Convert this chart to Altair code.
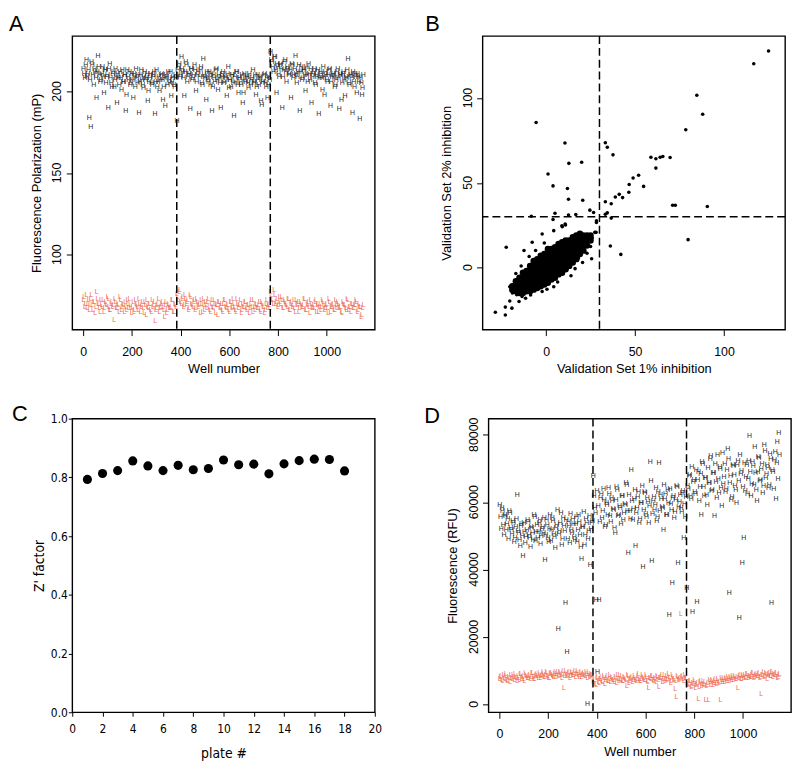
import altair as alt
import pandas as pd

FONT = "Liberation Sans, Arial, Helvetica, sans-serif"
NARROW = "Liberation Sans Narrow, Arial Narrow, DejaVu Sans Condensed, sans-serif"
RED = "#EE6A50"
DARK = "#1e1e1e"

PLATE = 384
STEP = 6
plate_breaks = [384, 768]

# ---------------- Panel A: fluorescence polarization (mP)
# two interleaved samplings per plate: wells 1,7,13,... and wells 4,10,16,...
a_high = [
    [214, 208, 219, 211, 184, 178, 216, 204, 212, 196, 222, 210, 207, 215, 199, 213, 209, 190, 217, 205,
     211, 203, 214, 193, 208, 212, 201, 206, 210, 188, 213, 207, 204, 211, 196, 209, 214, 205, 187, 210,
     207, 202, 212, 208, 194, 206, 211, 204, 209, 186, 213, 206, 200, 210, 207, 203, 191, 209, 212, 205,
     197, 208, 204, 210],
    [182, 215, 209, 221, 212, 197, 218, 206, 211, 189, 214, 208, 216, 200, 210, 186, 213, 205, 220, 209,
     195, 207, 212, 204, 188, 210, 206, 214, 201, 208, 190, 211, 205, 209, 197, 215, 207, 203, 210, 185,
     206, 212, 199, 208, 204, 193, 211, 206, 209, 202, 187, 207, 213, 205, 198, 210, 204, 208, 192, 206,
     211, 203, 196, 209],
    [224, 218, 212, 221, 199, 215, 209, 217, 190, 213, 219, 206, 214, 211, 196, 216, 210, 222, 205, 212,
     188, 215, 208, 213, 200, 210, 217, 207, 193, 211, 214, 204, 209, 186, 212, 208, 215, 198, 210, 206,
     213, 191, 209, 211, 203, 207, 214, 189, 210, 205, 212, 197, 208, 220, 204, 210, 187, 206, 211, 199,
     209, 183, 205, 202],
]
a_high_b = [
    [211, 216, 209, 213, 207, 218, 210, 214, 208, 212, 215, 206, 211, 209, 213, 205, 210, 214, 208, 203,
     212, 207, 209, 211, 204, 208, 213, 206, 210, 198, 209, 212, 205, 207, 211, 203, 208, 210, 206, 213,
     204, 209, 207, 211, 200, 208, 205, 210, 212, 206, 203, 209, 207, 211, 195, 208, 210, 204, 207, 212,
     206, 209, 203, 208],
    [213, 217, 210, 214, 208, 212, 216, 209, 211, 214, 207, 210, 213, 206, 212, 209, 215, 204, 210, 208,
     212, 206, 209, 211, 203, 208, 213, 207, 210, 205, 209, 212, 206, 208, 211, 202, 207, 210, 205, 209,
     212, 204, 208, 206, 210, 199, 207, 209, 205, 211, 204, 208, 206, 210, 203, 207, 209, 194, 206, 210,
     205, 208, 204, 207],
    [219, 215, 221, 213, 217, 211, 216, 214, 209, 218, 212, 215, 210, 213, 217, 208, 214, 211, 209, 216,
     212, 207, 213, 210, 215, 206, 211, 214, 209, 212, 205, 210, 213, 208, 211, 201, 209, 212, 207, 210,
     214, 206, 211, 209, 204, 212, 208, 210, 195, 211, 207, 209, 213, 205, 210, 208, 212, 203, 209, 211,
     206, 208, 198, 210],
]
a_low = [
    [72, 68, 75, 70, 66, 73, 69, 71, 64, 77, 70, 67, 72, 68, 65, 71, 69, 73, 66, 70,
     68, 60, 71, 67, 69, 74, 66, 70, 65, 68, 72, 67, 69, 64, 71, 66, 70, 68, 73, 65,
     69, 67, 71, 63, 68, 70, 66, 72, 69, 59, 67, 70, 65, 68, 71, 66, 69, 64, 70, 67,
     68, 72, 65, 69],
    [76, 72, 78, 70, 74, 69, 73, 71, 66, 75, 70, 68, 72, 67, 71, 69, 64, 70, 73, 66,
     69, 71, 68, 65, 72, 67, 70, 69, 63, 71, 68, 66, 70, 72, 67, 69, 65, 71, 68, 70,
     66, 73, 67, 69, 64, 70, 68, 71, 66, 69, 67, 72, 65, 68, 70, 67, 69, 66, 71, 68,
     64, 70, 67, 69],
    [77, 73, 70, 75, 71, 68, 74, 70, 72, 67, 71, 69, 73, 66, 70, 68, 72, 65, 69, 71,
     67, 70, 68, 73, 66, 69, 71, 64, 70, 68, 67, 72, 69, 65, 70, 68, 71, 66, 69, 67,
     73, 65, 68, 70, 66, 69, 71, 67, 68, 64, 70, 69, 66, 72, 68, 65, 70, 67, 69, 71,
     66, 68, 62, 67],
]
a_low_b = [
    [74, 70, 67, 72, 69, 75, 66, 71, 68, 73, 70, 65, 69, 72, 67, 70, 74, 68, 66, 71,
     69, 73, 67, 70, 65, 72, 68, 69, 71, 66, 70, 73, 67, 68, 65, 72, 69, 66, 70, 68,
     71, 64, 69, 72, 67, 70, 65, 68, 71, 66, 69, 73, 67, 70, 68, 62, 71, 66, 69, 67,
     72, 65, 70, 68],
    [74, 77, 71, 73, 68, 75, 70, 72, 67, 74, 69, 71, 66, 73, 68, 70, 72, 65, 69, 71,
     67, 73, 66, 70, 68, 72, 64, 69, 71, 67, 70, 65, 72, 68, 69, 66, 71, 67, 73, 68,
     65, 70, 69, 72, 66, 68, 71, 67, 69, 64, 70, 68, 72, 66, 69, 67, 71, 65, 70, 68,
     66, 72, 69, 67],
    [75, 72, 78, 70, 73, 69, 71, 74, 67, 72, 70, 68, 73, 66, 71, 69, 67, 72, 70, 65,
     71, 68, 69, 73, 66, 70, 68, 72, 67, 69, 71, 65, 70, 68, 66, 72, 69, 67, 70, 64,
     71, 68, 69, 66, 72, 67, 70, 68, 65, 71, 69, 67, 73, 66, 68, 70, 67, 69, 72, 65,
     70, 68, 63, 69],
]

# ---------------- Panel D: fluorescence (RFU)
d_high = [
    [59200, 52100, 57400, 50300, 55800, 53600, 49100, 56900, 51800, 54300, 48200, 52700, 62000, 50900, 47100,
     53500, 44000, 51200, 49800, 54800, 50200, 46700, 52300, 48900, 55600, 51100, 49500, 53800, 47600, 52000,
     50700, 42800, 54600, 49300, 51900, 48400, 55300, 50600, 46300, 53200, 22300, 51500, 56800, 49000, 52800,
     30100, 15400, 54100, 47900, 51700, 55000, 49600, 53600, 48100, 56200, 50400, 43000, 52500, 47300, 54900,
     0, 51300, 41400, 53900],
    [67900, 58300, 31000, 9500, 30900, 61200, 55400, 63800, 52600, 59700, 56100, 62400, 54200, 60300, 57800,
     50900, 64600, 55900, 58800, 53400, 61700, 56700, 59300, 65200, 44800, 57300, 69500, 54600, 60800, 47100,
     58200, 62900, 55100, 59900, 40800, 63100, 56400, 61100, 53800, 71900, 42400, 60200, 57600, 64300, 55700,
     71600, 62100, 58700, 51800, 60900, 56300, 63500, 26500, 59400, 36000, 61800, 57100, 64800, 42000, 60100,
     58400, 62700, 49500, 55500],
    [34500, 63800, 68200, 60900, 27500, 66700, 62300, 30300, 69100, 64500, 56200, 71400, 61800, 67300, 59100,
     65600, 72800, 63200, 68800, 55800, 66100, 73900, 62700, 69800, 58900, 65300, 71200, 63900, 75800, 33100,
     67800, 61400, 70600, 64900, 59800, 72300, 25700, 68400, 41800, 49500, 63300, 70900, 66900, 79500, 61900,
     71800, 65200, 68600, 60300, 73400, 66400, 69700, 62600, 76900, 67100, 71000, 64100, 74300, 30200, 68900,
     72600, 61000, 77800, 80500],
]
d_high_b = [
    [55600, 58400, 53100, 56200, 51700, 54900, 57300, 52400, 50600, 53800, 49400, 55100, 51300, 48700, 52900,
     50100, 53700, 47800, 51600, 54200, 49300, 52500, 50800, 56300, 48600, 53300, 51200, 54700, 49900, 52700,
     55400, 50400, 53100, 48300, 56100, 51800, 54300, 49700, 52200, 57600, 50500, 53900, 47400, 55200, 51400,
     54600, 49200, 52900, 56400, 50800, 53400, 48800, 55700, 51600, 54100, 46800, 52600, 57100, 50300, 53700,
     49100, 55900, 51900, 54500],
    [61800, 56700, 63400, 58900, 54100, 62300, 57500, 60700, 53300, 59100, 64100, 55800, 61300, 57900, 52400,
     60500, 63700, 56200, 58400, 61900, 54800, 59600, 65800, 57300, 62200, 55100, 60400, 58100, 63600, 56900,
     61500, 53900, 59800, 64700, 57700, 62600, 55600, 60100, 58800, 66300, 56500, 61600, 59200, 54300, 63100,
     57400, 60800, 58300, 65100, 62400, 56100, 59700, 63900, 57800, 61200, 55300, 60600, 64400, 58600, 62100,
     57000, 63300, 59500, 61400],
    [64700, 67900, 61900, 70300, 65900, 63100, 69400, 66600, 60200, 68300, 71900, 64400, 67200, 62100, 70100,
     65700, 73600, 63600, 68700, 71300, 61300, 66800, 70400, 64200, 74600, 67600, 62900, 69600, 72700, 65800,
     60700, 71100, 68100, 63700, 70900, 66200, 74100, 69300, 64600, 71600, 67400, 62400, 72100, 68900, 65500,
     70700, 76300, 63500, 69100, 73200, 66500, 71400, 64800, 75200, 68300, 70200, 65100, 72900, 69500, 63900,
     74800, 71700, 66800, 73900],
]
d_low = [
    [7600, 8400, 6900, 7800, 9100, 7200, 8100, 6600, 7900, 8600, 7300, 8200, 6800, 7700, 8900, 7500, 8300,
     7000, 8700, 7900, 8500, 7400, 9200, 8000, 7600, 8800, 8300, 9400, 7800, 8600, 9000, 8200, 9600, 8400,
     7900, 9300, 8700, 8100, 9500, 8900, 8300, 9700, 8600, 9100, 4900, 9800, 8500, 9200, 7800, 9600, 8800,
     9300, 8200, 9900, 8700, 9400, 8000, 9100, 8600, 9500, 7700, 9000, 8300, 8800],
    [6500, 7200, 5800, 8100, 6300, 7500, 6900, 8400, 6100, 7700, 7000, 8700, 6600, 7900, 7300, 8200, 6400,
     7600, 8800, 7100, 6800, 8000, 7400, 5500, 8500, 7000, 7800, 6700, 8300, 7200, 7600, 8900, 6900, 7500,
     8100, 7300, 8600, 7000, 4900, 7800, 8400, 7100, 7700, 6600, 8200, 5200, 7900, 8700, 7400, 6800, 8500,
     7600, 8100, 6200, 8800, 7300, 4400, 2300, 8000, 7500, 26800, 8300, 6900, 7700],
    [7800, 5600, 6800, 5100, 6300, 7200, 4800, 5900, 1500, 6600, 5300, 7000, 6100, 1200, 5700, 1300, 6500,
     7300, 5800, 6900, 6200, 7600, 6400, 1200, 7100, 7800, 6600, 7400, 8100, 6900, 7700, 8400, 7200, 8000,
     7500, 4900, 8300, 7600, 8700, 7900, 8200, 9000, 7700, 8500, 8000, 9200, 7800, 8600, 8300, 9100, 7900,
     3200, 8800, 8200, 9300, 7600, 8900, 8400, 9500, 8100, 8700, 9200, 7900, 8600],
]
d_low_b = [
    [8100, 7300, 8800, 7600, 8300, 6900, 7900, 8600, 7400, 8200, 9000, 7700, 8400, 7100, 8900, 8000, 7500,
     9200, 8300, 7800, 8700, 8100, 9300, 7600, 8500, 9100, 7900, 8800, 8300, 9500, 8000, 8700, 9200, 7800,
     8900, 9400, 8400, 9000, 8200, 9600, 8700, 9300, 7900, 9800, 8500, 9100, 8800, 9500, 8300, 9200, 8600,
     10000, 8900, 9400, 8100, 9700, 8800, 9300, 8500, 9000, 9600, 8200, 9100, 8700],
    [7300, 6100, 7900, 6700, 7400, 8200, 6500, 7700, 7100, 8500, 6800, 7500, 8100, 7200, 6600, 7800, 8600,
     7000, 7500, 8300, 6900, 7700, 7200, 8800, 6400, 7600, 8200, 7100, 7900, 6800, 8400, 7400, 7000, 8700,
     7700, 7200, 8100, 6700, 7900, 7400, 8500, 6900, 7600, 8300, 7100, 7800, 8000, 6600, 8600, 7500, 7300,
     8900, 7900, 7000, 8200, 7600, 6800, 8400, 7200, 7700, 8100, 7400, 8700, 7900],
    [6400, 5900, 7000, 5400, 6100, 6700, 5600, 6300, 5200, 6900, 6000, 5800, 6600, 5500, 6200, 7100, 5700,
     6800, 6400, 7400, 6100, 7000, 6700, 7700, 6500, 7200, 7900, 6900, 7500, 8200, 7100, 7800, 8500, 7400,
     8100, 7700, 8800, 7600, 8300, 8600, 7900, 9100, 8400, 8000, 8700, 9300, 8200, 8900, 8500, 9400, 8100,
     8800, 9600, 8300, 9000, 8700, 9200, 8400, 9700, 8900, 8600, 9300, 8200, 9000],
]

# ---------------- Panel B: validation set % inhibition
# dense core of the cloud: (set-1 value, list of set-2 values)
b_core = [
    (-19, [-13, -11]), (-17, [-14, -11, -8]), (-15, [-15, -12, -9, -6]), (-13, [-15, -12, -9, -6, -3]),
    (-11, [-14, -11, -8, -5, -2]), (-9, [-14, -11, -8, -5, -2, 1]), (-7, [-13, -10, -7, -4, -1, 2, 4]),
    (-5, [-12, -9, -6, -3, 0, 3, 5]), (-3, [-11, -8, -5, -2, 1, 4, 7]), (-1, [-10, -7, -4, -1, 2, 5, 8]),
    (1, [-9, -6, -3, 0, 3, 6, 9, 11]), (3, [-7, -4, -1, 2, 5, 8, 11]), (5, [-6, -3, 0, 3, 6, 9, 12]),
    (7, [-4, -1, 2, 5, 8, 11, 14]), (9, [-3, 0, 3, 6, 9, 12, 15]), (11, [-1, 2, 5, 8, 11, 14, 16]),
    (13, [1, 4, 7, 10, 13, 16]), (15, [3, 6, 9, 12, 15, 18]), (17, [5, 8, 11, 14, 17, 19]),
    (19, [8, 11, 14, 17, 20]), (21, [10, 13, 16, 19]), (23, [13, 16, 19]), (25, [16, 19]),
]
b_x = [125, 116.7, 84.7, 88, 78.5, -5.6, 10.6, 33.3, 34.4, 37.6, 12.8, 20, 1.1, 3.9, 12, 12.6, 20.6, 5,
       -8.3, 12.6, 16.7, 24.6, 26.7, 28.3, 33.3, 34.4, 36.6, 33.3, 36.6, 38.9, 41.1, 43, 46.5, 46.7, 48.9,
       52, 54.8, 58.9, 61.7, 61.7, 64.1, 65.6, 69.7, 71.1, 72.6, 90.6, 79.8, 36.1, 42, 25.6, 28.1, -22.4,
       -28.5, -22.9, -22.9, -19.2, -20.4, -7.8, -12.4, 3.9, 9.1, 10.9, 18.2, -2.2, 4.3, 8.9, 10.7, 27.4,
       28.3, 16.3, 11.7, 4.3, -15.2, -11.5, -8.7, -2.2, -20.4, -18.9, -17.9, -5.9, -13.5, -16.5, 0.5, 6.5,
       14, 20.5, 23, 25, 26, -1, -9.5, -14, -17]
b_y = [127.8, 120.2, 101.7, 90.5, 81.3, 85.6, 73.5, 73.6, 71, 66.5, 61.5, 62.2, 55.2, 48.2, 46.7, 40.3,
       39.7, 32.1, 30.3, 31, 31.3, 33.9, 32.5, 27.6, 31.5, 32.3, 29.2, 38.9, 37.7, 41.6, 43.2, 41.3, 44.5,
       49, 52.9, 54.5, 47.9, 65.1, 64.2, 58.7, 65.1, 65.5, 64.9, 36.8, 36.8, 36, 16.5, 12.8, 7.8, 5.2, 20.8,
       12, -26.3, -28, -23.3, -23.9, -19.7, 15, 10.1, 28.4, 24.1, 25.2, 5.6, 19.8, 21.8, 24.7, 25.7, 20.8,
       26.6, -0.6, 1.3, -11.3, -20, -18.1, -16.1, -14.1, -11.3, -15, -13.3, 10.1, -17, -16, -12.8, -8.5,
       -4.8, 3, 8.5, 12.5, 17.5, 14.5, 6.5, 1, -3.5]
b_cut = 30

# ---------------- Panel C: Z' factor per plate
c_plate = list(range(1, 19))
c_z = [0.793, 0.813, 0.823, 0.856, 0.839, 0.823, 0.841, 0.826, 0.830, 0.859,
       0.843, 0.845, 0.812, 0.846, 0.857, 0.862, 0.861, 0.822]

well_ticks = [0, 200, 400, 600, 800, 1000]
a_ticks = [100, 150, 200]
b_ticks = [0, 50, 100]
d_ticks = [0, 20000, 40000, 60000, 80000]


def wells_df(label, *sets):
    rows = []
    for offset, plates in sets:
        for p, vals in enumerate(plates):
            for i, v in enumerate(vals):
                rows.append({"well": PLATE * p + offset + STEP * i, "value": v, "mark": label})
    return pd.DataFrame(rows)


def x_axis(title, values):
    return alt.Axis(values=values, title=title, grid=False, domain=False, tickSize=6,
                    tickColor="black", tickWidth=1, labelFont=FONT, labelFontSize=12.5,
                    labelColor="black", labelFlush=False, labelOverlap=False, labelPadding=10,
                    format="d", titleFont=FONT, titleFontSize=13, titleFontWeight="normal",
                    titleColor="black", titlePadding=5)


def y_axis(title, values):
    # tick labels are drawn as rotated text marks (see ylabels)
    return alt.Axis(values=values, title=title, grid=False, domain=False, tickSize=6,
                    tickColor="black", tickWidth=1, labels=False, titleFont=FONT, titleFontSize=13,
                    titleFontWeight="normal", titleColor="black", titlePadding=23)


def ylabels(values, yscale, yaxis):
    return alt.Chart(pd.DataFrame({"tick": values})).mark_text(
        angle=270, align="center", baseline="bottom", font=FONT, fontSize=12.5, color="black"
    ).encode(y=alt.Y("tick:Q", scale=yscale, axis=yaxis), x=alt.value(-8),
             text=alt.Text("tick:Q", format="d"))


def letter(ch, dx, dy):
    return alt.Chart(pd.DataFrame({"t": [ch]})).mark_text(
        font=FONT, fontSize=22, align="left", baseline="top", color="black"
    ).encode(x=alt.value(dx), y=alt.value(dy), text="t:N")


W, H = 306, 297


def well_panel(highs, lows, ydom, yvals, ytitle, ch, dx, dy):
    xs = alt.Scale(domain=[-45, 1197], nice=False, zero=False)
    ys = alt.Scale(domain=ydom, nice=False, zero=False)
    yax = y_axis(ytitle, yvals)
    xe = alt.X("well:Q", scale=xs, axis=x_axis("Well number", well_ticks))
    ye = alt.Y("value:Q", scale=ys, axis=yax)
    hi = alt.Chart(wells_df("H", *highs)).mark_text(font=FONT, fontSize=7, color=DARK).encode(
        x=xe, y=ye, text="mark:N")
    lo = alt.Chart(wells_df("L", *lows)).mark_text(font=FONT, fontSize=7, color=RED).encode(
        x=xe, y=ye, text="mark:N")
    vl = alt.Chart(pd.DataFrame({"well": plate_breaks})).mark_rule(
        color="black", strokeDash=[8, 4], strokeWidth=1.5).encode(x=xe)
    yl = ylabels(yvals, ys, yax)
    return alt.layer(hi, lo, vl, yl, letter(ch, dx, dy)).properties(width=W, height=H)


panelA = well_panel([(1, a_high), (4, a_high_b)], [(1, a_low), (4, a_low_b)], [54, 234],
                    a_ticks, "Fluorescence Polarization (mP)", "A", -64, -22)
panelD = well_panel([(1, d_high), (4, d_high_b)], [(1, d_low), (4, d_low_b)], [-2355, 84800],
                    d_ticks, "Fluorescence (RFU)", "D", -65, -13)

# Panel B
core_rows = [{"x": x, "y": y} for x, ys_ in b_core for y in ys_]
df_core = pd.DataFrame(core_rows)
df_pts = pd.DataFrame({"x": b_x, "y": b_y})
bxs = alt.Scale(domain=[-35.7, 134.3], nice=False, zero=False)
bys = alt.Scale(domain=[-36.6, 136.6], nice=False, zero=False)
byax = y_axis("Validation Set 2% inhibition", b_ticks)
bx = alt.X("x:Q", scale=bxs, axis=x_axis("Validation Set 1% inhibition", b_ticks))
by = alt.Y("y:Q", scale=bys, axis=byax)
core = alt.Chart(df_core).mark_circle(size=42, color="black", opacity=1).encode(x=bx, y=by)
pts = alt.Chart(df_pts).mark_circle(size=13, color="black", opacity=1).encode(x=bx, y=by)
vrule = alt.Chart(pd.DataFrame({"x": [b_cut]})).mark_rule(
    color="black", strokeDash=[8, 4], strokeWidth=1.5).encode(x=bx)
hrule = alt.Chart(pd.DataFrame({"y": [b_cut]})).mark_rule(
    color="black", strokeDash=[8, 4], strokeWidth=1.5).encode(y=by)
panelB = alt.layer(core, pts, vrule, hrule, ylabels(b_ticks, bys, byax),
                   letter("B", -58, -22)).properties(width=W, height=H)

# Panel C
c_axis_common = dict(grid=False, domain=False, tickSize=4, tickColor="black", tickWidth=1,
                     labelFont=NARROW, labelFontSize=12, labelColor="black", labelFlush=False,
                     labelOverlap=False, titleFont=NARROW, titleFontSize=14,
                     titleFontWeight="normal", titleColor="black")
cx = alt.X("plate:Q", scale=alt.Scale(domain=[0, 20], nice=False, zero=False),
           axis=alt.Axis(values=list(range(0, 21, 2)), title="plate #", labelPadding=7,
                         titlePadding=13, **c_axis_common))
cy = alt.Y("z:Q", scale=alt.Scale(domain=[0, 1], nice=False, zero=False),
           axis=alt.Axis(values=[0, 0.2, 0.4, 0.6, 0.8, 1.0], format=".1f", title="Z' factor",
                         labelPadding=1, titlePadding=4, **c_axis_common))
cpts = alt.Chart(pd.DataFrame({"plate": c_plate, "z": c_z})).mark_circle(
    size=85, color="black", opacity=1).encode(x=cx, y=cy)
panelC = alt.layer(cpts, letter("C", -61, -15)).properties(width=W, height=H)

row1 = alt.hconcat(panelA, panelB, spacing=49)
row2 = alt.hconcat(panelC, panelD, spacing=41)
chart = alt.vconcat(row1, row2, spacing=25).properties(padding=0)
chart = chart.configure_view(stroke="black", strokeWidth=1.4)

chart.save("out.html", embed_options={"renderer": "svg", "actions": False})
